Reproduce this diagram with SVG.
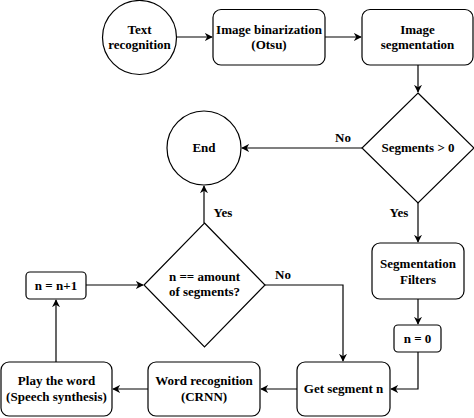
<svg xmlns="http://www.w3.org/2000/svg" width="474" height="418" viewBox="0 0 474 418">
<style>
.s{fill:#fff;stroke:#000;stroke-width:1.2}
.c{fill:none;stroke:#000;stroke-width:1.2}
text{font-family:"Liberation Serif","Times New Roman","DejaVu Serif",serif;font-weight:bold;font-size:13px;text-anchor:middle;fill:#000}
</style>
<defs>
<marker id="a" viewBox="0 0 10 10" refX="9" refY="5" markerWidth="8" markerHeight="8" markerUnits="userSpaceOnUse" orient="auto">
<path d="M0,0 L10,5 L0,10 L3,5 Z" fill="#000"/>
</marker>
</defs>
<rect width="474" height="418" fill="#fff"/>
<g id="connectors">
<line class="c" x1="177" y1="37" x2="212" y2="37" marker-end="url(#a)"/>
<line class="c" x1="325" y1="37" x2="361" y2="37" marker-end="url(#a)"/>
<line class="c" x1="418" y1="65" x2="418" y2="92" marker-end="url(#a)"/>
<line class="c" x1="362" y1="148" x2="242" y2="148" marker-end="url(#a)"/>
<line class="c" x1="418" y1="203" x2="418" y2="242" marker-end="url(#a)"/>
<line class="c" x1="418" y1="299" x2="418" y2="324" marker-end="url(#a)"/>
<polyline class="c" points="418,352 418,389 391,389" marker-end="url(#a)"/>
<line class="c" x1="297" y1="389" x2="261" y2="389" marker-end="url(#a)"/>
<line class="c" x1="148" y1="389" x2="113" y2="389" marker-end="url(#a)"/>
<line class="c" x1="56" y1="362" x2="56" y2="300" marker-end="url(#a)"/>
<line class="c" x1="86" y1="285" x2="143" y2="285" marker-end="url(#a)"/>
<polyline class="c" points="265,285 343,285 343,361" marker-end="url(#a)"/>
<line class="c" x1="204" y1="223" x2="204" y2="186" marker-end="url(#a)"/>
<text x="343" y="142">No</text>
<text x="399" y="217">Yes</text>
<text x="223" y="217">Yes</text>
<text x="283" y="279">No</text>
</g>
<g id="text-recognition">
<circle class="s" cx="139.5" cy="37.5" r="37"/>
<text x="139.5" y="34">Text</text>
<text x="139.5" y="49">recognition</text>
</g>
<g id="image-binarization">
<rect class="s" x="213" y="9.5" width="112" height="55.5" rx="8"/>
<text x="269" y="34">Image binarization</text>
<text x="269" y="49">(Otsu)</text>
</g>
<g id="image-segmentation">
<rect class="s" x="362" y="9.5" width="111" height="55.5" rx="8"/>
<text x="417.5" y="34">Image</text>
<text x="417.5" y="49">segmentation</text>
</g>
<g id="segments-decision">
<polygon class="s" points="418,93 474,148 418,203 362,148"/>
<text x="418" y="152">Segments &gt; 0</text>
</g>
<g id="end">
<circle class="s" cx="204" cy="148" r="37"/>
<text x="204" y="152">End</text>
</g>
<g id="segmentation-filters">
<rect class="s" x="372" y="243" width="92" height="56" rx="8"/>
<text x="418" y="268">Segmentation</text>
<text x="418" y="284">Filters</text>
</g>
<g id="n-zero">
<rect class="s" x="394" y="325" width="47" height="27" rx="4"/>
<text x="417.5" y="343">n = 0</text>
</g>
<g id="get-segment">
<rect class="s" x="297" y="362" width="93" height="54" rx="8"/>
<text x="343.5" y="393">Get segment n</text>
</g>
<g id="word-recognition">
<rect class="s" x="148" y="362" width="112" height="54" rx="8"/>
<text x="204" y="385">Word recognition</text>
<text x="204" y="401">(CRNN)</text>
</g>
<g id="play-word">
<rect class="s" x="1" y="362" width="111" height="54" rx="8"/>
<text x="56.5" y="385">Play the word</text>
<text x="56.5" y="401">(Speech synthesis)</text>
</g>
<g id="n-increment">
<rect class="s" x="26" y="272" width="60" height="27" rx="4"/>
<text x="56" y="290">n = n+1</text>
</g>
<g id="amount-decision">
<polygon class="s" points="204.5,223 265,285 204.5,347 144,285"/>
<text x="204.5" y="281">n == amount</text>
<text x="204.5" y="296">of segments?</text>
</g>
</svg>
